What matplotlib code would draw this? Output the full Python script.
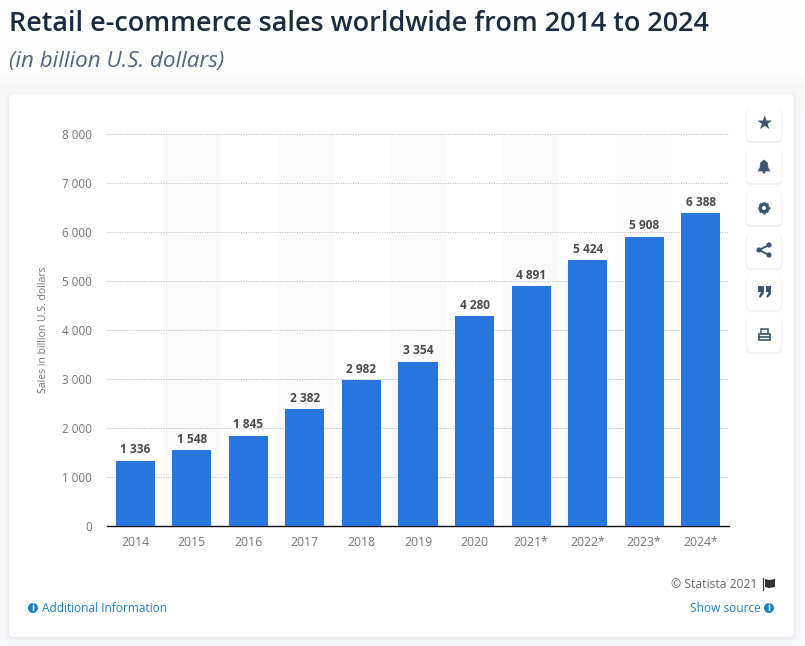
#!/usr/bin/env python3
# Retail e-commerce sales bar chart, Statista style
import matplotlib
matplotlib.use('Agg')
import matplotlib.pyplot as plt
from matplotlib.patches import FancyBboxPatch, Rectangle, Circle, Polygon

years = ['2014', '2015', '2016', '2017', '2018', '2019', '2020', '2021*', '2022*', '2023*', '2024*']
sales = [1336, 1548, 1845, 2382, 2982, 3354, 4280, 4891, 5424, 5908, 6388]
y_ticks = [0, 1000, 2000, 3000, 4000, 5000, 6000, 7000, 8000]

W, H = 805, 646
plt.rcParams['font.family'] = ['Open Sans', 'DejaVu Sans']

fig = plt.figure(figsize=(W / 100, H / 100), dpi=100, facecolor='#f7f8fa')

# overlay in pixel coordinates for the card, titles and buttons
bg = fig.add_axes([0, 0, 1, 1], zorder=0)
bg.set_xlim(0, W)
bg.set_ylim(H, 0)
bg.axis('off')
# page fades from near white at the top into the grey behind the card
bg.imshow([[253], [253], [247], [247]], cmap='gray', vmin=0, vmax=255,
          extent=(0, W, 110, 50), aspect='auto', interpolation='bilinear', zorder=0)
bg.add_patch(Rectangle((0, 0), W, 50, color='#fdfdfd', lw=0, zorder=0))
bg.set_xlim(0, W)
bg.set_ylim(H, 0)


def round_box(ax, x, y, w, h, r, color, z=1):
    ax.add_patch(FancyBboxPatch((x + r, y + r), w - 2 * r, h - 2 * r,
                                boxstyle='round,pad=%s,rounding_size=%s' % (r, r),
                                fc=color, ec='none', lw=0, zorder=z))


# soft shadow then the white card
for grow, col in [(4, '#f5f6f8'), (2, '#f1f2f5'), (1, '#ebedf0')]:
    round_box(bg, 9 - grow, 94 - grow + 1, 785 + 2 * grow, 543 + 2 * grow, 5, col)
round_box(bg, 9, 94, 785, 543, 5, 'white', z=2)

bg.text(9, 24, 'Retail e-commerce sales worldwide from 2014 to 2024', fontsize=19.45,
        fontweight=600, color='#1c2b3f', va='center', ha='left')
bg.text(9, 62, '(in billion U.S. dollars)', fontsize=16.15, style='italic',
        color='#53647e', va='center', ha='left')

# chart itself
left, right, top, bottom = 107, 729, 134, 526
ax = fig.add_axes([left / W, 1 - bottom / H, (right - left) / W, (bottom - top) / H], zorder=2)
ax.patch.set_alpha(0)
xs = list(range(len(years)))
for x in xs[1::2]:
    ax.axvspan(x - 0.5, x + 0.5, color='#fafafb', lw=0, zorder=0)
ax.bar(xs, sales, width=0.69, color='#2775dd', zorder=3)
for x, v in zip(xs, sales):
    ax.annotate(f'{v:,}'.replace(',', ' '), (x, v), xytext=(0, 3), textcoords='offset points',
                ha='center', va='bottom', fontsize=8.6, fontweight='bold', color='#4a4a4a', zorder=4)
ax.set_xlim(-0.5, len(years) - 0.5)
ax.set_ylim(0, 8000)
ax.set_xticks(xs)
ax.set_xticklabels(years)
ax.set_yticks(y_ticks)
ax.set_yticklabels([f'{t:,}'.replace(',', ' ') for t in y_ticks])
ax.tick_params(axis='both', length=0, labelcolor='#757575')
ax.tick_params(axis='x', pad=7.5, labelsize=8.8)
ax.tick_params(axis='y', pad=11, labelsize=8.4)
ax.grid(axis='y', color='#b5b5b5', linestyle=(0, (1, 1.5)), linewidth=0.7, zorder=1)
ax.set_axisbelow(True)
for side in ['top', 'right', 'left']:
    ax.spines[side].set_visible(False)
ax.spines['bottom'].set_color('#111111')
ax.spines['bottom'].set_linewidth(1.0)
ax.set_ylabel('Sales in billion U.S. dollars', fontsize=7.5, color='#777777')
ax.yaxis.set_label_coords((49 - left) / (right - left), (bottom - 330) / (bottom - top))

# top layer: buttons and footer
fg = fig.add_axes([0, 0, 1, 1], zorder=3)
fg.set_xlim(0, W)
fg.set_ylim(H, 0)
fg.axis('off')
icon = '#3d5570'
for by in [107, 149, 191, 234, 276, 318]:
    round_box(fg, 746, by, 36, 36, 5, '#f0f1f4', z=1)
    round_box(fg, 747, by, 34, 34, 4, 'white', z=2)

fg.text(764, 123.5, '\u2605', family='DejaVu Sans', fontsize=14, color=icon, ha='center', va='center', zorder=3)
# bell
fg.add_patch(Polygon([(758, 171), (760, 168), (760.5, 163), (764, 160), (767.5, 163), (768, 168), (770, 171)],
                     fc=icon, ec=icon, lw=0.5, zorder=3))
fg.add_patch(Circle((764, 172), 1.5, fc=icon, ec='none', zorder=3))
# gear: ring with teeth
fg.add_patch(Circle((764, 208), 3.8, fc='none', ec=icon, lw=2.2, zorder=3))
for dx, dy in [(0, 6), (6, 0), (4.2, 4.2), (4.2, -4.2)]:
    fg.plot([764 - dx, 764 + dx], [208 - dy, 208 + dy], color=icon, lw=1.8, zorder=3, solid_capstyle='butt')
fg.add_patch(Circle((764, 208), 2.0, fc='white', ec='none', zorder=4))
# share
fg.plot([769, 759, 769], [245, 250, 255], color=icon, lw=1.4, zorder=3)
for cx, cy in [(769, 245), (759, 250), (769, 255)]:
    fg.add_patch(Circle((cx, cy), 2.6, fc=icon, ec='none', zorder=3))
# quote marks
for qx in [758, 765.5]:
    fg.add_patch(Rectangle((qx, 286), 5.5, 6, fc=icon, ec='none', zorder=3))
    fg.add_patch(Polygon([(qx + 5.5, 292), (qx + 5.5, 294), (qx + 2, 298), (qx + 1, 296.5), (qx + 3, 292)],
                         fc=icon, ec='none', zorder=3))
# printer
fg.add_patch(Rectangle((760.5, 329), 7, 5, fc='white', ec=icon, lw=1.1, zorder=3))
fg.add_patch(Rectangle((758.5, 334), 11, 6, fc='white', ec=icon, lw=1.2, zorder=4))
fg.plot([758.5, 769.5], [337, 337], color=icon, lw=1.2, zorder=5)

link = '#1c80c9'


def info_icon(x, y):
    fg.add_patch(Circle((x, y), 5, fc=link, ec='none', zorder=3))
    fg.text(x, y + 0.2, 'i', fontsize=7, fontweight='bold', color='white', ha='center', va='center', zorder=4)


fg.text(757, 584, '\u00a9 Statista 2021', fontsize=8.7, color='#666666', ha='right', va='center')
# flag
fg.plot([763, 763], [578, 590], color='#333333', lw=0.8)
fg.add_patch(Polygon([(765, 579), (769, 580), (775, 579), (775, 587), (769, 588), (765, 587)],
                     fc='#333333', ec='none', zorder=3))
info_icon(33, 608)
fg.text(42, 608, 'Additional Information', fontsize=8.6, color=link, ha='left', va='center')
info_icon(769, 608)
fg.text(761, 608, 'Show source', fontsize=8.6, color=link, ha='right', va='center')

fig.savefig('out.png', dpi=100, facecolor=fig.get_facecolor())
